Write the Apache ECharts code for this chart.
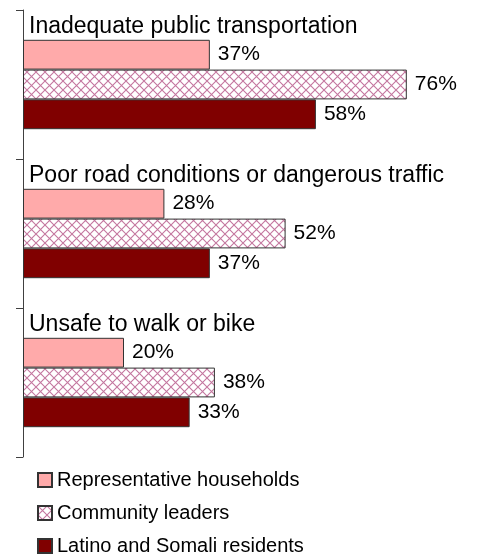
<!DOCTYPE html>
<html>
<head>
<meta charset="utf-8">
<style>
  html, body { margin: 0; padding: 0; background: #fff; }
  #chart { width: 480px; height: 556px; }
</style>
<script src="https://cdn.jsdelivr.net/npm/echarts@6/dist/echarts.min.js"></script>
</head>
<body>
<div id="chart"></div>
<script>
const categories = ['Inadequate public transportation', 'Poor road conditions or dangerous traffic', 'Unsafe to walk or bike']
const seriesNames = ['Representative households', 'Community leaders', 'Latino and Somali residents']
const households = [37, 28, 20]
const leaders = [76, 52, 38]
const residents = [58, 37, 33]

const font = 'Liberation Sans, Arial, sans-serif'

// crosshatch fill for the community leaders bars
function makeHatch() {
  const c = document.createElement('canvas')
  c.width = 9
  c.height = 9
  const ctx = c.getContext('2d')
  ctx.fillStyle = '#ffffff'
  ctx.fillRect(0, 0, 9, 9)
  ctx.strokeStyle = '#c4779f'
  ctx.lineWidth = 1.1
  ctx.beginPath()
  ctx.moveTo(0, 0); ctx.lineTo(9, 9)
  ctx.moveTo(9, 0); ctx.lineTo(0, 9)
  ctx.stroke()
  return c
}

const labelStyle = {
  show: true,
  position: 'right',
  distance: 8,
  formatter: '{c}%',
  color: '#000',
  fontSize: 21,
  fontFamily: font
}
const border = { borderColor: '#333', borderWidth: 1 }

const chart = echarts.init(document.getElementById('chart'))
chart.setOption({
  animation: false,
  grid: { left: 23, top: 10, bottom: 99, width: 404 },
  legend: {
    orient: 'vertical',
    left: 37,
    top: 470,
    padding: 0,
    height: 90,
    icon: 'rect',
    itemWidth: 14,
    itemHeight: 14,
    itemGap: 13,
    textStyle: { fontSize: 20, fontFamily: font, color: '#000' },
    data: seriesNames
  },
  xAxis: {
    type: 'value',
    min: 0,
    max: 80,
    show: false
  },
  yAxis: {
    type: 'category',
    inverse: true,
    data: categories,
    axisLine: { show: true, lineStyle: { color: '#404040', width: 1 } },
    axisTick: { show: true, inside: false, length: 7, lineStyle: { color: '#404040', width: 1 } },
    axisLabel: {
      inside: true,
      margin: 6,
      verticalAlign: 'bottom',
      padding: [0, 0, 46, 0],
      color: '#000',
      fontSize: 23,
      fontFamily: font
    }
  },
  series: [
    {
      name: seriesNames[0],
      type: 'bar',
      barGap: 0,
      barCategoryGap: '40%',
      data: households,
      itemStyle: Object.assign({ color: '#ffaaaa' }, border),
      label: labelStyle
    },
    {
      name: seriesNames[1],
      type: 'bar',
      data: leaders,
      itemStyle: Object.assign({ color: { image: makeHatch(), repeat: 'repeat' } }, border),
      label: labelStyle
    },
    {
      name: seriesNames[2],
      type: 'bar',
      data: residents,
      itemStyle: Object.assign({ color: '#800000' }, border),
      label: labelStyle
    }
  ]
})
</script>
</body>
</html>
